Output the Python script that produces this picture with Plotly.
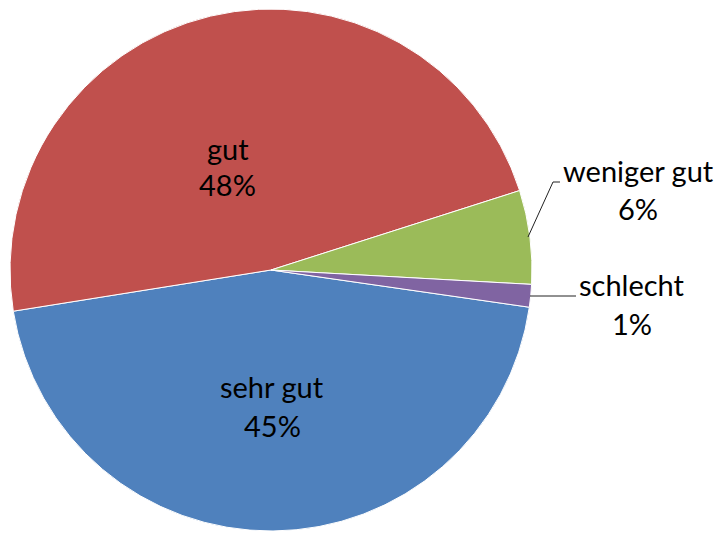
import plotly.graph_objects as go

labels = ["sehr gut", "gut", "weniger gut", "schlecht"]
values = [45.2, 47.6, 5.8, 1.4]
colors = ["#4F81BD", "#C0504D", "#9BBB59", "#8064A2"]

W, H = 722, 545
OFF = 8  # page body margin offset
FONT = "Lato"
FS = 29

def px(x):
    return (x - OFF) / W

def py(y):
    return 1 - (y - OFF) / H

fig = go.Figure(go.Pie(
    labels=labels,
    values=values,
    marker=dict(colors=colors, line=dict(color="white", width=1)),
    sort=False,
    direction="clockwise",
    rotation=98.2,
    textinfo="none",
    hoverinfo="label+percent",
    domain=dict(x=[px(10), px(532)], y=[py(531), py(9)]),
    showlegend=False,
))

total = sum(values)
pct = [f"{round(v / total * 100)}%" for v in values]

# label positions (pixel centers of the two text lines)
label_pos = {
    "sehr gut": (272, 386, 425),
    "gut": (228, 149, 184),
    "weniger gut": (638, 170, 209),
    "schlecht": (632, 284, 323),
}

annotations = []
for lab, p in zip(labels, pct):
    x, y1, y2 = label_pos[lab]
    for txt, yy in ((lab, y1), (p, y2)):
        annotations.append(dict(
            x=px(x), y=py(yy), xref="paper", yref="paper",
            text=txt, showarrow=False, xanchor="center", yanchor="middle",
            font=dict(family=FONT, size=FS, color="black"),
        ))

shapes = [
    dict(type="path", xref="paper", yref="paper",
         path=f"M {px(528)} {py(237)} L {px(553)} {py(182)} L {px(560)} {py(182)}",
         line=dict(color="#222222", width=1)),
    dict(type="line", xref="paper", yref="paper",
         x0=px(530), y0=py(296), x1=px(576), y1=py(296),
         line=dict(color="#222222", width=1)),
]

fig.update_layout(
    width=W, height=H,
    margin=dict(l=0, r=0, t=0, b=0),
    paper_bgcolor="white",
    plot_bgcolor="white",
    annotations=annotations,
    shapes=shapes,
)

fig.write_html("out.html")
